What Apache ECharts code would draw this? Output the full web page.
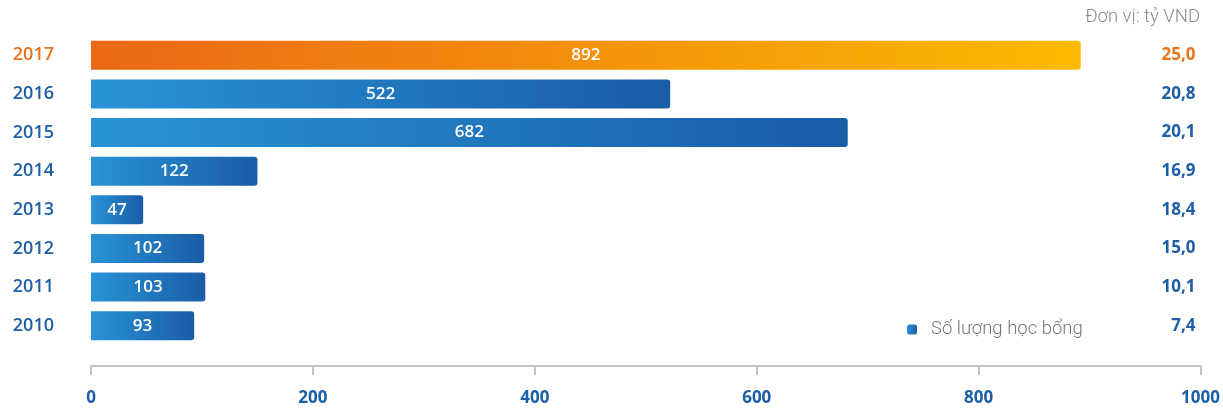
<!DOCTYPE html>
<html>
<head>
<meta charset="utf-8">
<script src="https://cdn.jsdelivr.net/npm/echarts@6/dist/echarts.min.js"></script>
<style>
  html, body { margin: 0; padding: 0; background: #fff; }
  #chart { width: 1223px; height: 410px; }
</style>
</head>
<body>
<div id="chart"></div>
<script>
  // năm, từ dưới lên trên
  const years = ['2010', '2011', '2012', '2013', '2014', '2015', '2016', '2017']
  // số lượng học bổng (nhãn trên thanh)
  const scholarships = [93, 103, 102, 47, 122, 682, 522, 892]
  // chiều dài thanh (thanh 2014 được vẽ dài hơn nhãn)
  const barLengths = [93, 103, 102, 47, 150, 682, 522, 892]
  // giá trị học bổng, tỷ VND
  const amounts = ['7,4', '10,1', '15,0', '18,4', '16,9', '20,1', '20,8', '25,0']
  const xTicks = [0, 200, 400, 600, 800, 1000]
  const highlightYear = '2017'

  const BLUE = '#1c5fa8'
  const ORANGE = '#e8731a'

  let myChart = echarts.init(document.getElementById('chart'))

  const blueGrad = new echarts.graphic.LinearGradient(0, 0, 1, 0, [
    {offset: 0, color: '#2894d6'},
    {offset: 1, color: '#1a5ca7'}
  ])
  const orangeGrad = new echarts.graphic.LinearGradient(0, 0, 1, 0, [
    {offset: 0, color: '#eb6816'},
    {offset: 1, color: '#fbba00'}
  ])

  const barData = barLengths.map((v, i) => ({
    value: v,
    itemStyle: years[i] === highlightYear ? {color: orangeGrad} : {}
  }))

  const yearColor = (val) => (val === highlightYear ? ORANGE : BLUE)

  myChart.setOption({
    animation: false,
    textStyle: {fontFamily: 'Open Sans'},
    graphic: [{
      type: 'text',
      right: 23,
      top: 8,
      style: {
        text: 'Đơn vị: tỷ VND',
        fill: '#8a8a8a',
        font: '300 18.5px Roboto'
      }
    }],
    legend: {
      left: 902,
      top: 315,
      itemWidth: 10,
      itemHeight: 10,
      icon: 'roundRect',
      textStyle: {
        color: '#777',
        fontSize: 18.5,
        fontFamily: 'Roboto',
        fontWeight: 300,
        padding: [0, 0, 0, 9]
      },
      data: ['Số lượng học bổng']
    },
    grid: {left: 91, right: 21, top: 36, bottom: 65},
    xAxis: {
      type: 'value',
      min: xTicks[0],
      max: xTicks[xTicks.length - 1],
      interval: 200,
      offset: 21,
      splitLine: {show: false},
      axisLine: {show: true, lineStyle: {color: '#c4c4c4', width: 2}},
      axisTick: {show: true, length: 9, lineStyle: {color: '#c4c4c4', width: 2}},
      axisLabel: {
        color: BLUE,
        fontSize: 17,
        fontWeight: 'bold',
        margin: 24,
        formatter: (v) => String(v)
      }
    },
    yAxis: [
      {
        type: 'category',
        data: years,
        axisLine: {show: false},
        axisTick: {show: false},
        axisLabel: {
          margin: 37,
          fontSize: 18,
          fontWeight: 600,
          padding: [5, 0, 0, 0],
          color: yearColor
        }
      },
      {
        type: 'category',
        position: 'right',
        data: amounts,
        axisLine: {show: false},
        axisTick: {show: false},
        axisLabel: {
          inside: true,
          margin: 5,
          fontSize: 17,
          fontWeight: 'bold',
          padding: [5, 0, 0, 0],
          color: (val, idx) => (years[idx] === highlightYear ? ORANGE : BLUE)
        }
      }
    ],
    series: [{
      name: 'Số lượng học bổng',
      type: 'bar',
      barWidth: 29,
      itemStyle: {color: blueGrad, borderRadius: [0, 3, 3, 0]},
      label: {
        show: true,
        position: 'inside',
        color: '#fff',
        fontSize: 17,
        fontWeight: 600,
        formatter: (p) => scholarships[p.dataIndex]
      },
      data: barData
    }]
  })
</script>
</body>
</html>
